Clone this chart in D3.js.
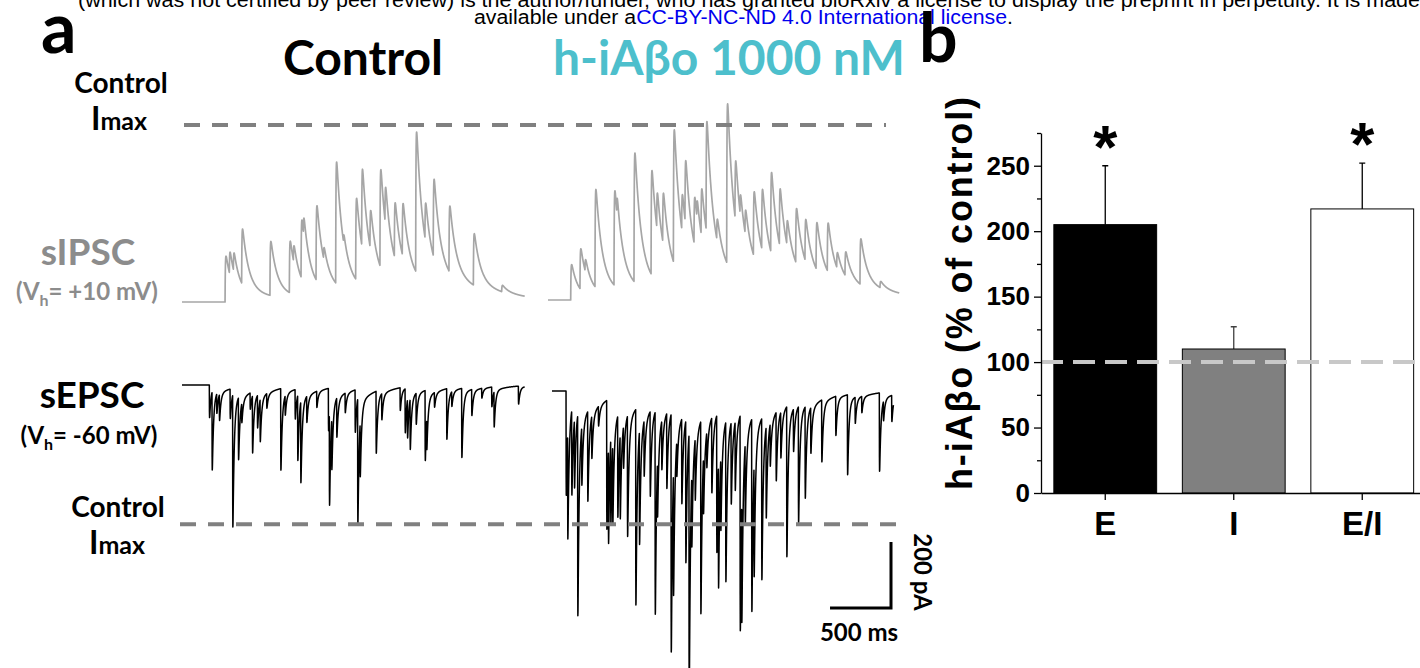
<!DOCTYPE html>
<html>
<head>
<meta charset="utf-8">
<script src="https://cdn.jsdelivr.net/npm/d3@7"></script>
<style>
  body { margin: 0; background: #fff; }
  svg { display: block; }
</style>
</head>
<body>
<div id="chart-area"></div>
<script>
// ---- data ----
// synaptic events [time ms, amplitude pA] for each trace
var ipscControl = [[353,140],[388,72],[421,60],[489,170],[721,165],[880,158],[913,55],[976,180],[995,60],
  [1099,230],[1160,40],[1260,372],[1323,30],[1424,250],[1473,245],[1541,122],[1623,300],[1664,120],
  [1741,172],[1806,165],[1916,430],[1992,120],[2060,242],[2189,203],[2389,158],[2621,20]];
var ipscAbeta = [[186,108],[262,125],[303,40],[385,300],[541,290],[563,60],[705,395],[845,320],[891,120],
  [940,160],[1028,410],[1096,120],[1123,200],[1197,150],[1219,60],[1255,150],[1296,345],[1383,70],
  [1465,490],[1533,190],[1574,70],[1615,80],[1684,200],[1752,190],[1826,250],[1897,180],[1957,80],
  [2031,170],[2107,130],[2198,145],[2290,150],[2367,50],[2435,75],[2558,140],[2722,20]];
var epscControl = [[224,100],[246,240],[284,60],[306,80],[394,90],[415,405],[462,190],[489,60],[558,50],
  [577,175],[618,100],[640,130],[694,45],[809,250],[845,60],[927,90],[948,200],[973,250],[1022,80],
  [1104,50],[1200,130],[1208,285],[1227,160],[1268,120],[1337,60],[1419,130],[1440,385],[1460,170],
  [1591,190],[1637,80],[1788,70],[1829,135],[1848,120],[1870,155],[1919,95],[1993,215],[2006,100],
  [2069,45],[2170,155],[2211,45],[2293,212],[2375,80],[2457,30],[2539,60],[2558,108],[2758,55]];
var epscAbeta = [[115,320],[128,330],[161,260],[183,210],[210,615],[243,180],[292,275],[325,130],[380,60],
  [448,395],[462,300],[481,270],[497,250],[538,310],[558,260],[585,130],[618,370],[686,600],[716,350],
  [754,170],[804,260],[845,620],[864,180],[899,150],[940,230],[976,730],[995,390],[1022,110],[1063,260],
  [1096,435],[1123,820],[1145,230],[1173,190],[1219,590],[1241,180],[1268,110],[1309,230],[1350,420],
  [1364,390],[1383,230],[1424,490],[1468,250],[1501,210],[1542,660],[1555,390],[1583,250],[1637,590],
  [1656,350],[1719,495],[1755,280],[1788,130],[1837,210],[1875,140],[1924,460],[1979,130],[2020,355],
  [2075,280],[2121,140],[2211,190],[2326,120],[2422,245],[2485,80],[2539,50],[2684,240],[2717,60],[2785,80]];
// control peak currents (pA) shown as dashed lines
var ipscImax = 536, epscImax = 422;

// panel b
var groups = ['E', 'I', 'E/I'];
var means = [205, 110, 217];
var errs = [250, 127, 252];      // top of error bar
var signif = [true, false, true];
var yTicks = [0, 50, 100, 150, 200, 250];
var yMinor = [25, 75, 125, 175, 225, 275];

var W = 1420, H = 668;
var svg = d3.select('#chart-area').append('svg')
  .attr('width', W).attr('height', H);

var calib = 'Lato, "Open Sans", sans-serif';
var arial = '"Liberation Sans", Arial, sans-serif';

// header of the preprint page
var hdr = svg.append('g').attr('font-family', arial).attr('font-size', 20);
hdr.append('text').attr('x', 78).attr('y', 6.5)
  .attr('textLength', 1342).attr('lengthAdjust', 'spacingAndGlyphs')
  .text('(which was not certified by peer review) is the author/funder, who has granted bioRxiv a license to display the preprint in perpetuity. It is made');
var l2 = hdr.append('text').attr('x', 474).attr('y', 24)
  .attr('textLength', 539).attr('lengthAdjust', 'spacingAndGlyphs');
l2.append('tspan').text('available under a');
l2.append('tspan').attr('fill', '#0000ee').text('CC-BY-NC-ND 4.0 International license');
l2.append('tspan').text('.');

// panel letters
svg.append('text').attr('x', 41).attr('y', 53).attr('font-family', calib)
  .attr('font-weight', 'bold').attr('font-size', 70).text('a');
svg.append('text').attr('x', 919).attr('y', 62).attr('font-family', calib)
  .attr('font-weight', 'bold').attr('font-size', 68).text('b');

// ---------- panel a ----------
var msPerPx = 8.2, pxPerPA = 0.33;

function buildTrace(events, dur, k) {
  var tp = k.tr * k.td / (k.td - k.tr) * Math.log(k.td / k.tr);
  var norm = Math.exp(-tp / k.td) - Math.exp(-tp / k.tr);
  return d3.range(0, dur + 0.5, 1).map(function (t) {
    var v = 0;
    events.forEach(function (e) {
      var s = t - e[0];
      if (s <= 0) return;
      var fast = (Math.exp(-s / k.td) - Math.exp(-s / k.tr)) / norm;
      var slow = Math.exp(-s / k.ts) * (1 - Math.exp(-s / k.tr));
      v += e[1] * ((1 - k.slow) * fast + k.slow * slow);
    });
    return { t: t, v: v };
  });
}

var ipscK = { tr: 2.5, td: 50, slow: 0.11, ts: 300 };
var epscK = { tr: 0.8, td: 11, slow: 0.08, ts: 120 };

var traces = [
  { ev: ipscControl, dur: 2810, x0: 182, base: 302, dir: -1, k: ipscK, color: '#a6a6a6', w: 1.7 },
  { ev: ipscAbeta,   dur: 2880, x0: 548, base: 300, dir: -1, k: ipscK, color: '#a6a6a6', w: 1.7 },
  { ev: epscControl, dur: 2810, x0: 182, base: 385, dir: 1,  k: epscK, color: '#000', w: 1.5 },
  { ev: epscAbeta,   dur: 2800, x0: 552, base: 391, dir: 1,  k: epscK, color: '#000', w: 1.5 }
];

traces.forEach(function (tr) {
  tr.x = d3.scaleLinear().domain([0, tr.dur]).range([tr.x0, tr.x0 + tr.dur / msPerPx]);
  tr.y = d3.scaleLinear().domain([0, 200]).range([tr.base, tr.base + tr.dir * 200 * pxPerPA]);
  var data = buildTrace(tr.ev, tr.dur, tr.k);
  svg.append('path')
    .datum(data)
    .attr('fill', 'none')
    .attr('stroke', tr.color)
    .attr('stroke-width', tr.w)
    .attr('stroke-linejoin', 'round')
    .attr('d', d3.line().x(function (d) { return tr.x(d.t); }).y(function (d) { return tr.y(d.v); }));
});

// control Imax dashed lines
svg.append('line').attr('x1', 184).attr('x2', 886)
  .attr('y1', traces[0].y(ipscImax)).attr('y2', traces[0].y(ipscImax))
  .attr('stroke', '#808080').attr('stroke-width', 4).attr('stroke-dasharray', '16,12');
svg.append('line').attr('x1', 180).attr('x2', 897)
  .attr('y1', traces[2].y(epscImax)).attr('y2', traces[2].y(epscImax))
  .attr('stroke', '#808080').attr('stroke-width', 4).attr('stroke-dasharray', '16,12');

// scale bar 500 ms / 200 pA
var sbX = 891, sbY = 608;
var sbW = traces[3].x(500) - traces[3].x(0);
var sbH = Math.abs(traces[3].y(200) - traces[3].y(0));
svg.append('path')
  .attr('d', 'M' + (sbX - sbW) + ',' + sbY + 'H' + sbX + 'V' + (sbY - sbH))
  .attr('fill', 'none').attr('stroke', '#000').attr('stroke-width', 3);
svg.append('text').attr('x', 859).attr('y', 641).attr('text-anchor', 'middle')
  .attr('font-family', calib).attr('font-weight', 'bold').attr('font-size', 24).text('500 ms');
svg.append('text').attr('transform', 'translate(914,572) rotate(90)').attr('text-anchor', 'middle')
  .attr('font-family', calib).attr('font-weight', 'bold').attr('font-size', 24).text('200 pA');

// titles
svg.append('text').attr('x', 363).attr('y', 75).attr('text-anchor', 'middle')
  .attr('font-family', calib).attr('font-weight', 'bold').attr('font-size', 48).text('Control');
svg.append('text').attr('x', 729).attr('y', 75).attr('text-anchor', 'middle')
  .attr('font-family', calib).attr('font-weight', 'bold').attr('font-size', 48)
  .attr('fill', '#4dbfcc').text('h-iAβo 1000 nM');

// left labels
function imax(x, y) {
  var t = svg.append('text').attr('x', x).attr('y', y).attr('text-anchor', 'middle')
    .attr('font-family', calib).attr('font-weight', 'bold');
  t.append('tspan').attr('font-size', 32).text('I');
  t.append('tspan').attr('font-size', 25).text('max');
}
function lab(x, y, s, txt, col) {
  return svg.append('text').attr('x', x).attr('y', y).attr('text-anchor', 'middle')
    .attr('font-family', calib).attr('font-weight', 'bold').attr('font-size', s)
    .attr('fill', col || '#000').text(txt);
}
function vh(x, y, txt, col) {
  var t = svg.append('text').attr('x', x).attr('y', y).attr('text-anchor', 'middle')
    .attr('font-family', calib).attr('font-weight', 'bold').attr('font-size', 24).attr('fill', col);
  t.append('tspan').text('(V');
  t.append('tspan').attr('font-size', 16).attr('dy', 6).text('h');
  t.append('tspan').attr('dy', -6).text(txt);
}
lab(121, 93, 28, 'Control');
imax(119, 130);
lab(88, 265, 37, 'sIPSC', '#8c8c8c');
vh(87, 300, '= +10 mV)', '#8c8c8c');
lab(92, 408, 37, 'sEPSC');
vh(89, 444, '= -60 mV)', '#000');
lab(118, 517, 28, 'Control');
imax(117, 554);

// ---------- panel b ----------
var xb = d3.scaleBand().domain(groups).range([1041, 1426.5])
  .paddingInner(0.2).paddingOuter(0.1);
var yb = d3.scaleLinear().domain([0, 275]).range([493, 133]);

var bars = svg.append('g');
bars.selectAll('path.err')
  .data(groups)
  .enter().append('path')
  .attr('class', 'err')
  .attr('d', function (d, i) {
    var cx = xb(d) + xb.bandwidth() / 2;
    return 'M' + cx + ',' + yb(means[i]) + 'V' + yb(errs[i]) + 'M' + (cx - 3) + ',' + yb(errs[i]) + 'H' + (cx + 3);
  })
  .attr('fill', 'none')
  .attr('stroke', function (d, i) { return i === 1 ? '#404040' : '#000'; })
  .attr('stroke-width', 1.3);

bars.selectAll('rect')
  .data(groups)
  .enter().append('rect')
  .attr('x', function (d) { return xb(d); })
  .attr('width', xb.bandwidth())
  .attr('y', function (d, i) { return yb(means[i]); })
  .attr('height', function (d, i) { return yb(0) - yb(means[i]); })
  .attr('fill', function (d, i) { return ['#000', '#808080', '#fff'][i]; })
  .attr('stroke', '#000')
  .attr('stroke-width', 1);

// 100 % reference
svg.append('line').attr('x1', 1041).attr('x2', 1420)
  .attr('y1', yb(100)).attr('y2', yb(100))
  .attr('stroke', '#c8c8c8').attr('stroke-width', 4).attr('stroke-dasharray', '22,10');

// asterisks
svg.selectAll('text.star')
  .data(groups.filter(function (d, i) { return signif[i]; }))
  .enter().append('text')
  .attr('class', 'star')
  .attr('x', function (d) { return xb(d) + xb.bandwidth() / 2; })
  .attr('y', function (d) { return yb(errs[groups.indexOf(d)]) + 2; })
  .attr('text-anchor', 'middle')
  .attr('font-family', arial).attr('font-weight', 'bold').attr('font-size', 62)
  .text('*');

var yAxis = d3.axisLeft(yb).tickValues(yTicks).tickSize(7).tickSizeOuter(0).tickPadding(4);
var gy = svg.append('g').attr('transform', 'translate(1041,0)').call(yAxis);
gy.selectAll('text').attr('font-family', arial).attr('font-weight', 'bold').attr('font-size', 26).attr('fill', '#000');
gy.selectAll('line, path').attr('stroke', '#000').attr('stroke-width', 1.3);
var gm = svg.append('g').attr('transform', 'translate(1041,0)')
  .call(d3.axisLeft(yb).tickValues(yMinor).tickSize(4).tickFormat(''));
gm.select('.domain').remove();
gm.selectAll('line').attr('stroke', '#000').attr('stroke-width', 1.3);

var gx = svg.append('g').attr('transform', 'translate(0,' + yb(0) + ')')
  .call(d3.axisBottom(xb).tickSize(7).tickSizeOuter(0).tickPadding(10));
gx.selectAll('text').attr('font-family', arial).attr('font-weight', 'bold').attr('font-size', 33).attr('fill', '#000')
  .attr('dy', '0.75em');
gx.selectAll('line, path').attr('stroke', '#000').attr('stroke-width', 1.3);

svg.append('text')
  .attr('transform', 'translate(972,' + ((97 + 490) / 2) + ') rotate(-90)')
  .attr('text-anchor', 'middle')
  .attr('font-family', arial).attr('font-weight', 'bold').attr('font-size', 36)
  .attr('textLength', 393).attr('lengthAdjust', 'spacing')
  .text('h-iAβo (% of control)');
</script>
</body>
</html>
